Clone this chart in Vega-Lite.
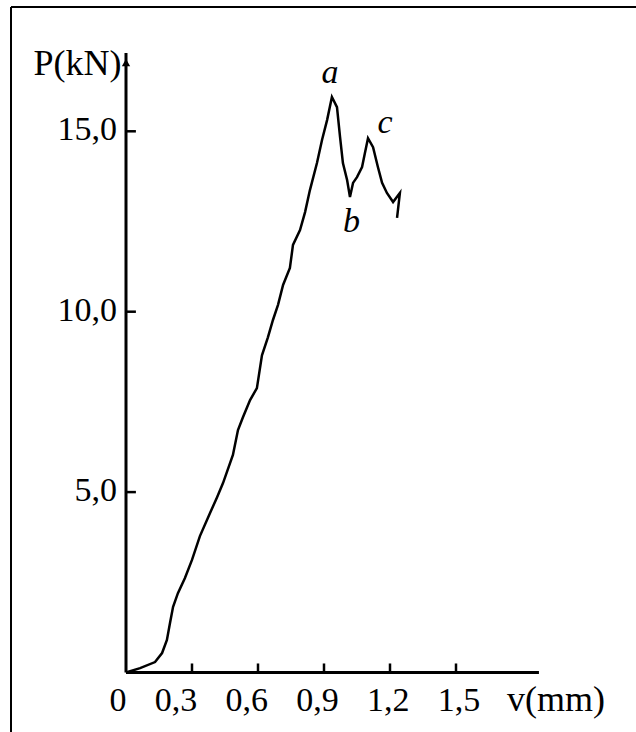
{
  "$schema": "https://vega.github.io/schema/vega-lite/v6.json",
  "width": 632,
  "height": 730,
  "autosize": "none",
  "padding": {"left": 11, "top": 7, "right": 0, "bottom": 0},
  "background": "white",
  "config": {"view": {"stroke": null}, "font": "Liberation Serif"},
  "datasets": {
    "curve": [
      {"i": 0, "v": 0, "p": 0},
      {"i": 1, "v": 0.064, "p": 0.12},
      {"i": 2, "v": 0.132, "p": 0.29},
      {"i": 3, "v": 0.164, "p": 0.54},
      {"i": 4, "v": 0.186, "p": 0.9},
      {"i": 5, "v": 0.2, "p": 1.37},
      {"i": 6, "v": 0.214, "p": 1.82},
      {"i": 7, "v": 0.236, "p": 2.2},
      {"i": 8, "v": 0.268, "p": 2.62},
      {"i": 9, "v": 0.3, "p": 3.12},
      {"i": 10, "v": 0.336, "p": 3.78},
      {"i": 11, "v": 0.382, "p": 4.42},
      {"i": 12, "v": 0.414, "p": 4.86},
      {"i": 13, "v": 0.441, "p": 5.25},
      {"i": 14, "v": 0.486, "p": 6.03},
      {"i": 15, "v": 0.509, "p": 6.72},
      {"i": 16, "v": 0.532, "p": 7.08},
      {"i": 17, "v": 0.564, "p": 7.55},
      {"i": 18, "v": 0.595, "p": 7.88},
      {"i": 19, "v": 0.618, "p": 8.79},
      {"i": 20, "v": 0.645, "p": 9.29},
      {"i": 21, "v": 0.668, "p": 9.77},
      {"i": 22, "v": 0.691, "p": 10.19},
      {"i": 23, "v": 0.714, "p": 10.74},
      {"i": 24, "v": 0.745, "p": 11.21},
      {"i": 25, "v": 0.759, "p": 11.85},
      {"i": 26, "v": 0.791, "p": 12.26},
      {"i": 27, "v": 0.814, "p": 12.76},
      {"i": 28, "v": 0.836, "p": 13.37},
      {"i": 29, "v": 0.868, "p": 14.12},
      {"i": 30, "v": 0.891, "p": 14.76},
      {"i": 31, "v": 0.914, "p": 15.31},
      {"i": 32, "v": 0.936, "p": 15.95},
      {"i": 33, "v": 0.959, "p": 15.67},
      {"i": 34, "v": 0.973, "p": 14.84},
      {"i": 35, "v": 0.986, "p": 14.12},
      {"i": 36, "v": 1.005, "p": 13.65},
      {"i": 37, "v": 1.018, "p": 13.18},
      {"i": 38, "v": 1.032, "p": 13.57},
      {"i": 39, "v": 1.05, "p": 13.73},
      {"i": 40, "v": 1.073, "p": 14.01},
      {"i": 41, "v": 1.086, "p": 14.4},
      {"i": 42, "v": 1.1, "p": 14.81},
      {"i": 43, "v": 1.123, "p": 14.56},
      {"i": 44, "v": 1.145, "p": 14.01},
      {"i": 45, "v": 1.164, "p": 13.57},
      {"i": 46, "v": 1.186, "p": 13.29},
      {"i": 47, "v": 1.214, "p": 13.04},
      {"i": 48, "v": 1.245, "p": 13.29},
      {"i": 49, "v": 1.232, "p": 12.6}
    ],
    "axes": [
      {"v": 0, "p": 0, "v2": 1.877, "p2": 0},
      {"v": 0, "p": 0, "v2": 0, "p2": 17.17}
    ],
    "frame": [
      {"v": -0.52273, "p": 18.445, "v2": 2.35, "p2": 18.445},
      {"v": -0.52273, "p": 18.445, "v2": -0.52273, "p2": -1.7878}
    ],
    "xticks": [
      {"v": 0.3, "p": 0, "p2": 0.25},
      {"v": 0.6, "p": 0, "p2": 0.25},
      {"v": 0.9, "p": 0, "p2": 0.25},
      {"v": 1.2, "p": 0, "p2": 0.25},
      {"v": 1.5, "p": 0, "p2": 0.25}
    ],
    "yticks": [
      {"p": 5, "v": 0, "v2": 0.045},
      {"p": 10, "v": 0, "v2": 0.045},
      {"p": 15, "v": 0, "v2": 0.045}
    ],
    "ylabels": [
      {"p": 5, "v": 0, "label": "5,0"},
      {"p": 10, "v": 0, "label": "10,0"},
      {"p": 15, "v": 0, "label": "15,0"}
    ],
    "zerolabel": [{"v": 0, "p": 0, "label": "0"}],
    "xlabels": [
      {"v": 0.3, "p": 0, "label": "0,3"},
      {"v": 0.6, "p": 0, "label": "0,6"},
      {"v": 0.9, "p": 0, "label": "0,9"},
      {"v": 1.2, "p": 0, "label": "1,2"},
      {"v": 1.5, "p": 0, "label": "1,5"}
    ],
    "arrow": [{"v": 0, "p": 16.9}],
    "titles": [{"v": -0.2205, "p": 16.56, "label": "P(kN)"}, {"v": 1.955, "p": -1.067, "label": "v(mm)"}],
    "notes": [{"v": 0.927, "p": 16.34, "label": "a"}, {"v": 1.025, "p": 12.21, "label": "b"}, {"v": 1.177, "p": 14.95, "label": "c"}]
  },
  "layer": [
    {
      "encoding": {
        "x": {"field": "v", "type": "quantitative", "scale": {"domain": [-0.52273, 2.35], "nice": false, "zero": false}, "axis": null},
        "y": {"field": "p", "type": "quantitative", "scale": {"domain": [-1.7878, 18.445], "nice": false, "zero": false}, "axis": null}
      },
      "layer": [
        {
          "data": {"name": "frame"},
          "mark": {"type": "rule", "color": "black", "strokeWidth": 2},
          "encoding": {"x2": {"field": "v2"}, "y2": {"field": "p2"}}
        },
        {
          "data": {"name": "axes"},
          "mark": {"type": "rule", "color": "black", "strokeWidth": 3},
          "encoding": {"x2": {"field": "v2"}, "y2": {"field": "p2"}}
        },
        {
          "data": {"name": "xticks"},
          "mark": {"type": "rule", "color": "black", "strokeWidth": 2.5},
          "encoding": {"y2": {"field": "p2"}}
        },
        {
          "data": {"name": "yticks"},
          "mark": {"type": "rule", "color": "black", "strokeWidth": 2.5},
          "encoding": {"x2": {"field": "v2"}}
        },
        {
          "data": {"name": "arrow"},
          "mark": {"type": "point", "shape": "triangle-up", "filled": true, "color": "black", "size": 70, "opacity": 1}
        },
        {
          "data": {"name": "curve"},
          "mark": {"type": "line", "color": "black", "strokeWidth": 2.5},
          "encoding": {"order": {"field": "i", "type": "quantitative"}}
        },
        {
          "data": {"name": "ylabels"},
          "mark": {"type": "text", "align": "right", "baseline": "alphabetic", "dx": -9, "dy": 9, "fontSize": 34, "color": "black"},
          "encoding": {"text": {"field": "label"}}
        },
        {
          "data": {"name": "zerolabel"},
          "mark": {"type": "text", "align": "center", "baseline": "alphabetic", "dx": -8, "dy": 38.5, "fontSize": 34, "color": "black"},
          "encoding": {"text": {"field": "label"}}
        },
        {
          "data": {"name": "titles"},
          "mark": {"type": "text", "align": "center", "baseline": "alphabetic", "fontSize": 36, "color": "black"},
          "encoding": {"text": {"field": "label"}}
        },
        {
          "data": {"name": "notes"},
          "mark": {"type": "text", "align": "center", "baseline": "alphabetic", "fontSize": 34, "fontStyle": "italic", "color": "black"},
          "encoding": {"text": {"field": "label"}}
        }
      ]
    },
    {
      "data": {"name": "xlabels"},
      "mark": {"type": "text", "align": "center", "baseline": "alphabetic", "dy": 38.5, "fontSize": 34, "color": "black"},
      "encoding": {
        "x": {"field": "v", "type": "quantitative", "scale": {"domain": [-0.39966, 2.28027], "nice": false, "zero": false}, "axis": null},
        "y": {"field": "p", "type": "quantitative", "scale": {"domain": [-1.7878, 18.445], "nice": false, "zero": false}, "axis": null},
        "text": {"field": "label"}
      }
    }
  ],
  "resolve": {"scale": {"x": "independent"}}
}
